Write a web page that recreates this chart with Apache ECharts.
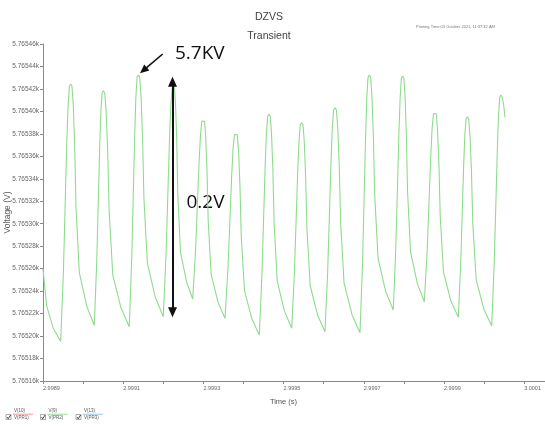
<!DOCTYPE html>
<html><head><meta charset="utf-8">
<script src="https://cdn.jsdelivr.net/npm/echarts/dist/echarts.min.js"></script>
<style>html,body{margin:0;padding:0;background:#fff}#c{width:545px;height:427px}</style>
</head><body><div id="c"></div>
<script>
// Time (s)
const timeS = [
2.9989000, 2.9989092, 2.9989257, 2.9989441,
2.9989509, 2.9989551, 2.9989591, 2.9989624, 2.9989656, 2.9989691, 2.9989723, 2.9989756, 2.9989791, 2.9989823, 2.9989905, 2.9990091, 2.9990279,
2.9990340, 2.9990378, 2.9990414, 2.9990443, 2.9990473, 2.9990504, 2.9990540, 2.9990575, 2.9990614, 2.9990650, 2.9990740, 2.9990945, 2.9991152,
2.9991213, 2.9991251, 2.9991287, 2.9991316, 2.9991345, 2.9991377, 2.9991411, 2.9991445, 2.9991483, 2.9991517, 2.9991604, 2.9991801, 2.9992000,
2.9992069, 2.9992112, 2.9992153, 2.9992186, 2.9992219, 2.9992255, 2.9992281, 2.9992307, 2.9992336, 2.9992362, 2.9992429, 2.9992580, 2.9992734,
2.9992805, 2.9992850, 2.9992892, 2.9992927, 2.9992961, 2.9992998, 2.9993028, 2.9993058, 2.9993090, 2.9993120, 2.9993195, 2.9993366, 2.9993539,
2.9993613, 2.9993660, 2.9993704, 2.9993739, 2.9993775, 2.9993813, 2.9993845, 2.9993877, 2.9993912, 2.9993944, 2.9994025, 2.9994208, 2.9994395,
2.9994460, 2.9994501, 2.9994540, 2.9994571, 2.9994603, 2.9994636, 2.9994668, 2.9994699, 2.9994733, 2.9994764, 2.9994842, 2.9995022, 2.9995203,
2.9995270, 2.9995312, 2.9995352, 2.9995385, 2.9995417, 2.9995452, 2.9995484, 2.9995516, 2.9995551, 2.9995583, 2.9995664, 2.9995847, 2.9996033,
2.9996100, 2.9996143, 2.9996183, 2.9996215, 2.9996248, 2.9996283, 2.9996317, 2.9996351, 2.9996389, 2.9996423, 2.9996509, 2.9996707, 2.9996906,
2.9996969, 2.9997008, 2.9997045, 2.9997075, 2.9997106, 2.9997138, 2.9997171, 2.9997204, 2.9997240, 2.9997273, 2.9997356, 2.9997545, 2.9997737,
2.9997800, 2.9997840, 2.9997877, 2.9997908, 2.9997938, 2.9997971, 2.9998001, 2.9998030, 2.9998062, 2.9998092, 2.9998167, 2.9998337, 2.9998510,
2.9998582, 2.9998627, 2.9998670, 2.9998704, 2.9998739, 2.9998777, 2.9998808, 2.9998840, 2.9998875, 2.9998907, 2.9998988, 2.9999172, 2.9999358,
2.9999418, 2.9999456, 2.9999492, 2.9999521, 2.9999551, 2.9999582, 2.9999615, 2.9999649, 2.9999686, 2.9999719, 2.9999804, 2.9999996, 3.0000191,
3.0000253, 3.0000293, 3.0000330, 3.0000360, 3.0000390, 3.0000423, 3.0000455, 3.0000490, 3.0000522
];
// Voltage (V)
const voltageV = [
5765.2597, 5765.2268, 5765.2069, 5765.1952,
5765.2570, 5765.3144, 5765.3694, 5765.4037, 5765.4221, 5765.4244, 5765.4223, 5765.4051, 5765.3685, 5765.3147, 5765.2567, 5765.2266, 5765.2094,
5765.2659, 5765.3181, 5765.3682, 5765.3996, 5765.4164, 5765.4184, 5765.4163, 5765.3996, 5765.3638, 5765.3112, 5765.2545, 5765.2252, 5765.2083,
5765.2688, 5765.3248, 5765.3786, 5765.4122, 5765.4302, 5765.4324, 5765.4303, 5765.4130, 5765.3765, 5765.3227, 5765.2646, 5765.2345, 5765.2172,
5765.2727, 5765.3240, 5765.3733, 5765.4041, 5765.4206, 5765.4226, 5765.4207, 5765.4055, 5765.3733, 5765.3259, 5765.2747, 5765.2482, 5765.2330,
5765.2762, 5765.3162, 5765.3546, 5765.3786, 5765.3914, 5765.3930, 5765.3912, 5765.3770, 5765.3469, 5765.3026, 5765.2548, 5765.2300, 5765.2158,
5765.2604, 5765.3017, 5765.3414, 5765.3662, 5765.3794, 5765.3810, 5765.3792, 5765.3648, 5765.3342, 5765.2892, 5765.2406, 5765.2154, 5765.2010,
5765.2541, 5765.3033, 5765.3505, 5765.3800, 5765.3957, 5765.3977, 5765.3958, 5765.3805, 5765.3481, 5765.3004, 5765.2489, 5765.2222, 5765.2069,
5765.2563, 5765.3021, 5765.3460, 5765.3735, 5765.3881, 5765.3899, 5765.3881, 5765.3732, 5765.3416, 5765.2951, 5765.2448, 5765.2188, 5765.2039,
5765.2577, 5765.3076, 5765.3554, 5765.3853, 5765.4013, 5765.4033, 5765.4013, 5765.3853, 5765.3512, 5765.3011, 5765.2471, 5765.2190, 5765.2030,
5765.2649, 5765.3223, 5765.3773, 5765.4118, 5765.4301, 5765.4324, 5765.4303, 5765.4136, 5765.3780, 5765.3257, 5765.2692, 5765.2399, 5765.2232,
5765.2795, 5765.3315, 5765.3815, 5765.4128, 5765.4294, 5765.4315, 5765.4295, 5765.4134, 5765.3793, 5765.3290, 5765.2748, 5765.2467, 5765.2306,
5765.2763, 5765.3186, 5765.3591, 5765.3845, 5765.3980, 5765.3997, 5765.3979, 5765.3833, 5765.3521, 5765.3064, 5765.2570, 5765.2314, 5765.2167,
5765.2649, 5765.3096, 5765.3524, 5765.3792, 5765.3935, 5765.3953, 5765.3934, 5765.3785, 5765.3468, 5765.3003, 5765.2500, 5765.2239, 5765.2090,
5765.2645, 5765.3159, 5765.3652, 5765.3961, 5765.4125, 5765.4146, 5765.4126, 5765.4057, 5765.3947
];
const xTickLabels = ['2.9989','2.9991','2.9993','2.9995','2.9997','2.9999','3.0001'];
const legendTop = ['V(10)','V(9)','V(13)'];
const legendBottom = ['V(PR1)','V(PR2)','V(PR3)'];
const legendColors = ['#f07f7f','#7fd67f','#7fb3ef'];
const titleText = 'DZVS';
const subTitleText = 'Transient';
const printingText = 'Printing Time:03 October 2021, 11:37:32 AM';
const peakLabel = '5.7KV';
const swingLabel = '0.2V';
// annotation anchors (data coordinates, centres of the arrow heads)
const swingTime = 2.9992230, swingTop = 5765.4264, swingBottom = 5765.2212;
const pointerFrom = [2.9991985, 5765.4511], pointerTo = [2.9991504, 5765.4365];

const chart = echarts.init(document.getElementById('c'), null, {renderer:'canvas'});
const FF = 'Liberation Sans, Arial, sans-serif';
const graphics = [];
const legendX = [6, 40.5, 76];
legendTop.forEach((t,i)=>{
  const x0 = legendX[i];
  graphics.push({type:'rect', shape:{x:x0, y:414.5, width:5, height:5}, style:{fill:'#fff', stroke:'#777', lineWidth:0.6}});
  graphics.push({type:'polyline', shape:{points:[[x0+1,417],[x0+2.2,418.8],[x0+4.6,415]]}, style:{stroke:'#333', lineWidth:0.9, fill:null}});
  graphics.push({type:'text', left:x0+8, top:408.2, style:{text:t, fontSize:4.5, fill:'#555', fontFamily:FF}});
  graphics.push({type:'line', shape:{x1:x0+7, y1:414.2, x2:x0+27, y2:414.2}, style:{stroke:legendColors[i], lineWidth:0.8}});
  graphics.push({type:'text', left:x0+8, top:415.5, style:{text:legendBottom[i], fontSize:4.5, fill:'#555', fontFamily:FF}});
});
graphics.push({type:'text', left:175, top:44.5, style:{text:peakLabel, fontSize:19, fill:'#111', fontFamily:'Open Sans, sans-serif'}});
graphics.push({type:'text', left:186.5, top:193.5, style:{text:swingLabel, fontSize:19, fill:'#111', fontFamily:'Open Sans, sans-serif'}});

chart.setOption({
  animation:false,
  textStyle:{fontFamily:FF},
  title:[
    {text:titleText, left:264, top:7, textAlign:'center', textStyle:{fontSize:10.5, fontWeight:'normal', color:'#444', fontFamily:FF}},
    {text:subTitleText, left:264, top:26, textAlign:'center', textStyle:{fontSize:10.5, fontWeight:'normal', color:'#444', fontFamily:FF}},
    {text:printingText, left:411, top:20, textStyle:{fontSize:4, fontWeight:'normal', color:'#777', fontFamily:FF}}
  ],
  grid:{left:43, right:0, top:44, bottom:46, containLabel:false, outerBoundsMode:'none'},
  xAxis:{
    type:'value', min:2.9989, max:3.000152, interval:0.0001,
    name:'Time (s)', nameLocation:'middle', nameGap:17, nameMoveOverlap:false,
    nameTextStyle:{fontSize:7.5, color:'#555', padding:[0,21,0,0]},
    axisLine:{lineStyle:{color:'#888', width:1}},
    axisTick:{show:true, length:3, lineStyle:{color:'#888'}},
    splitLine:{show:false},
    axisLabel:{fontSize:5.5, color:'#666', align:'left', margin:4, showMaxLabel:false,
      formatter:v=>{const s=Number(v).toFixed(4); return xTickLabels.includes(s)?s:'';}}
  },
  yAxis:{
    type:'value', min:5765.16, max:5765.46, interval:0.02,
    name:'Voltage (V)', nameLocation:'middle', nameGap:31, nameMoveOverlap:false,
    nameTextStyle:{fontSize:8.5, color:'#555'},
    axisLine:{show:true, lineStyle:{color:'#888', width:1}},
    axisTick:{show:true, length:3, lineStyle:{color:'#888'}},
    splitLine:{show:false},
    axisLabel:{fontSize:6.5, color:'#666', margin:4, formatter:v=>(v/1000).toFixed(5)+'k'}
  },
  series:[{
    type:'line', name:'V(9)',
    data:timeS.map((t,i)=>[t, voltageV[i]]),
    showSymbol:false, symbol:'none',
    lineStyle:{color:'#8edb8e', width:1.1},
    markLine:{
      silent:true, animation:false,
      label:{show:false},
      lineStyle:{color:'#111', type:'solid', width:2},
      data:[
        [{coord:[swingTime, swingTop], symbol:'triangle', symbolSize:[9,10]},
         {coord:[swingTime, swingBottom], symbol:'triangle', symbolSize:[9,10]}],
        [{coord:pointerFrom, symbol:'none', lineStyle:{width:1.6}},
         {coord:pointerTo, symbol:'triangle', symbolSize:[8,9], lineStyle:{width:1.6}}]
      ]
    }
  }],
  graphic:graphics
});
</script></body></html>
